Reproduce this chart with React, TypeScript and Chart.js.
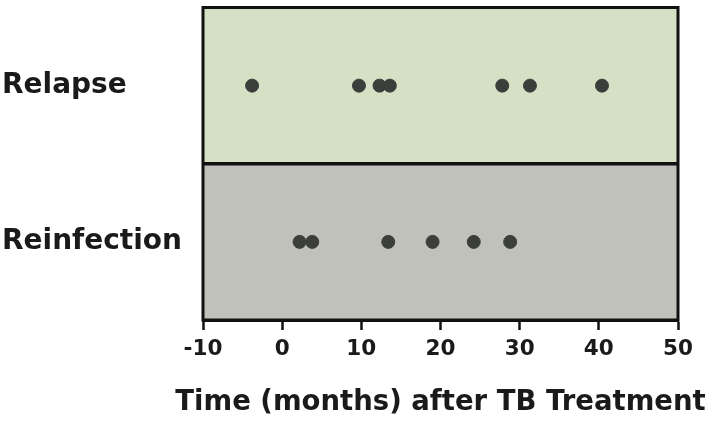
import React, { useEffect, useRef } from "react";
import { Chart, registerables } from "chart.js";

Chart.register(...registerables);

const categories = ["Reinfection", "Relapse"];
const relapseMonths = [-3.8, 9.7, 12.3, 13.6, 27.8, 31.3, 40.4];
const reinfectionMonths = [2.2, 3.8, 13.4, 19.0, 24.2, 28.8];
const xTicks = [-10, 0, 10, 20, 30, 40, 50];
const bandColors = ["#c1c1bc", "#d5e0c5"];
const xTitle = "Time (months) after TB Treatment";

const FONT = "'DejaVu Sans', sans-serif";

const bandsPlugin = {
  id: "bands",
  beforeDatasetsDraw(chart: any) {
    const { ctx, chartArea, scales } = chart;
    const y = scales.y;
    ctx.save();
    categories.forEach((_, i) => {
      const top = y.getPixelForValue(i + 1);
      const bot = y.getPixelForValue(i);
      ctx.fillStyle = bandColors[i];
      ctx.fillRect(chartArea.left, top, chartArea.right - chartArea.left, bot - top);
    });
    ctx.strokeStyle = "#111";
    ctx.lineWidth = 3;
    ctx.strokeRect(chartArea.left, chartArea.top, chartArea.right - chartArea.left, chartArea.bottom - chartArea.top);
    const mid = y.getPixelForValue(1);
    ctx.lineWidth = 3.5;
    ctx.beginPath();
    ctx.moveTo(chartArea.left, mid);
    ctx.lineTo(chartArea.right, mid);
    ctx.stroke();
    ctx.restore();
  },
};

const xTitlePlugin = {
  id: "xTitle",
  afterDraw(chart: any) {
    const { ctx, chartArea, scales } = chart;
    const x = scales.x;
    ctx.save();
    ctx.font = `bold 27.5px ${FONT}`;
    ctx.fillStyle = "#1a1a1a";
    ctx.textAlign = "center";
    ctx.textBaseline = "alphabetic";
    ctx.fillText(xTitle, (chartArea.left + chartArea.right) / 2, x.bottom - 13);
    ctx.restore();
  },
};

export default function App() {
  const ref = useRef<HTMLCanvasElement>(null);
  useEffect(() => {
    document.body.style.margin = "0";
    const chart = new Chart(ref.current!, {
      type: "scatter",
      data: {
        datasets: [
          {
            label: "Relapse",
            data: relapseMonths.map((m) => ({ x: m, y: 1.5 })),
            backgroundColor: "#3b3e3b",
            borderColor: "#3b3e3b",
            pointRadius: 6.5,
          },
          {
            label: "Reinfection",
            data: reinfectionMonths.map((m) => ({ x: m, y: 0.5 })),
            backgroundColor: "#3b3e3b",
            borderColor: "#3b3e3b",
            pointRadius: 6.5,
          },
        ],
      },
      options: {
        responsive: false,
        animation: false,
        layout: { padding: { top: 5, right: 36, left: 2, bottom: 0 } },
        plugins: { legend: { display: false }, tooltip: { enabled: false } },
        scales: {
          x: {
            type: "linear",
            min: -10,
            max: 50,
            afterBuildTicks: (s: any) => {
              s.ticks = xTicks.map((v) => ({ value: v }));
            },
            afterFit: (s: any) => {
              s.height = 103;
              s.paddingLeft = 0;
              s.paddingRight = 0;
            },
            grid: {
              drawOnChartArea: false,
              drawTicks: true,
              tickLength: 10,
              tickColor: "#111",
              tickWidth: 2.5,
            },
            border: { display: true, color: "#111", width: 3 },
            ticks: {
              color: "#1a1a1a",
              font: { family: FONT, size: 21.5, weight: "bold" },
              padding: 7,
              maxRotation: 0,
            },
            title: { display: false },
          },
          y: {
            type: "linear",
            min: 0,
            max: 2,
            afterBuildTicks: (s: any) => {
              s.ticks = categories.map((_, i) => ({ value: i + 0.5 }));
            },
            afterFit: (s: any) => {
              s.width = 201;
              s.paddingTop = 0;
              s.paddingBottom = 0;
            },
            grid: { display: false, drawTicks: false },
            border: { display: false },
            ticks: {
              crossAlign: "far",
              color: "#1a1a1a",
              font: { family: FONT, size: 28, weight: "bold" },
              callback: (v: any) => categories[Math.floor(Number(v))],
            },
          },
        },
      },
      plugins: [bandsPlugin, xTitlePlugin],
    });
    return () => chart.destroy();
  }, []);
  return (
    <div style={{ width: 714, height: 423 }}>
      <canvas ref={ref} width={714} height={423} style={{ display: "block" }} />
    </div>
  );
}
